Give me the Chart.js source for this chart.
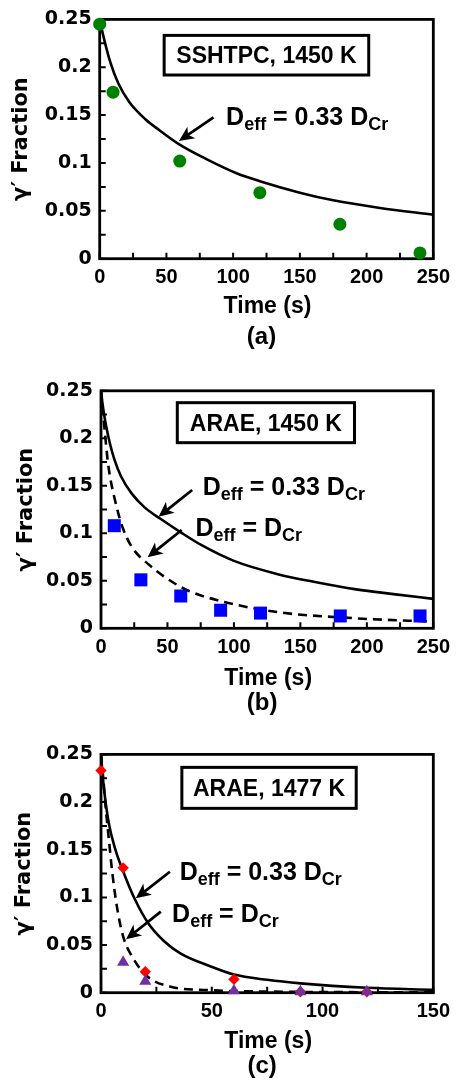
<!DOCTYPE html>
<html>
<head>
<meta charset="utf-8">
<script src="https://cdn.jsdelivr.net/npm/chart.js@4/dist/chart.umd.min.js"></script>
<style>
  html, body { margin: 0; padding: 0; background: #fff; }
  body { width: 457px; height: 1084px; position: relative; overflow: hidden; }
  canvas { position: absolute; left: 0; }
</style>
</head>
<body>
<canvas id="chartA" width="457" height="355" style="top:0"></canvas>
<canvas id="chartB" width="457" height="355" style="top:360px"></canvas>
<canvas id="chartC" width="457" height="364" style="top:720px"></canvas>
<script>
// ---- tick values ----
const yTicks = [0, 0.05, 0.1, 0.15, 0.2, 0.25];
const yTickLabels = ['0', '0.05', '0.1', '0.15', '0.2', '0.25'];
const xTicksLong = [0, 50, 100, 150, 200, 250];
const xTicksShort = [0, 50, 100, 150];

// ---- (a) SSHTPC, 1450 K ----
const timeA = [0, 10, 60, 120, 180, 240];
const fracA = [0.245, 0.174, 0.102, 0.069, 0.036, 0.006];
const fitTimeA = [0, 2, 8, 14, 22, 34, 45, 59, 80, 103, 120, 150, 175, 210, 250];
const fitA = [0.25, 0.237, 0.205, 0.183, 0.164, 0.146, 0.134, 0.120, 0.104, 0.089, 0.081, 0.069, 0.061, 0.053, 0.046];

// ---- (b) ARAE, 1450 K ----
const timeB = [10, 30, 60, 90, 120, 180, 240];
const fracB = [0.108, 0.051, 0.034, 0.019, 0.016, 0.013, 0.013];
const fitTimeB = [0, 1, 2, 4, 7, 10, 15, 23, 33, 45, 60, 75, 100, 133, 160, 192, 220, 250];
const fitB = [0.25, 0.238, 0.228, 0.212, 0.193, 0.178, 0.160, 0.142, 0.127, 0.115, 0.101, 0.088, 0.071, 0.057, 0.049, 0.041, 0.036, 0.031];
const fullTimeB = [0, 1, 2, 3, 5, 7, 10, 13, 16, 23, 36, 48, 65, 95, 133, 192, 250];
const fullB = [0.25, 0.235, 0.22, 0.205, 0.177, 0.158, 0.138, 0.121, 0.107, 0.086, 0.067, 0.054, 0.040, 0.027, 0.017, 0.0105, 0.007];

// ---- (c) ARAE, 1477 K ----
const timeC = [0, 10, 20, 60, 90, 120];
const fracC = [0.233, 0.131, 0.022, 0.014, 0.001, 0.001];
const timeC2 = [10, 20, 60, 90, 120];
const fracC2 = [0.032, 0.012, 0.002, 0.001, 0.001];
const fitTimeC = [0, 0.5, 1.3, 3.5, 6.5, 10.9, 15.3, 21, 28.5, 36, 49, 60, 75, 90, 120, 150];
const fitC = [0.25, 0.235, 0.215, 0.178, 0.150, 0.122, 0.098, 0.074, 0.054, 0.041, 0.028, 0.019, 0.0135, 0.0098, 0.0052, 0.003];
const fullTimeC = [0, 1, 2, 3.5, 5, 7.2, 10, 14, 21, 31, 48, 75, 110, 150];
const fullC = [0.25, 0.225, 0.197, 0.162, 0.128, 0.09, 0.059, 0.038, 0.017, 0.0065, 0.0028, 0.0012, 0.0006, 0.0004];

const SANS = '"Liberation Sans", Arial, sans-serif';
const WIDE = '"DejaVu Sans", sans-serif';

const zip = (xs, ys) => xs.map((x, i) => ({ x, y: ys[i] }));

function markers(xs, ys, style, radius, color) {
  return {
    data: zip(xs, ys), showLine: false, clip: false,
    pointStyle: style, pointRadius: radius, pointHoverRadius: radius,
    backgroundColor: color, borderColor: color, borderWidth: 0
  };
}

function curve(xs, ys, dash) {
  return {
    data: zip(xs, ys), showLine: true, pointRadius: 0,
    borderColor: '#000', borderWidth: 2.6, borderDash: dash || [],
    cubicInterpolationMode: 'monotone', fill: false
  };
}

const Deff033 = [['D', 0], ['eff', 1], [' = 0.33 D', 0], ['Cr', 1]];
const Deff = [['D', 0], ['eff', 1], [' = D', 0], ['Cr', 1]];

// frame and inward tick marks go under the markers
const framePlugin = {
  id: 'frame',
  beforeDatasetsDraw(chart) {
    const { ctx, chartArea: a, scales: { x, y } } = chart;
    const halves = v => v.flatMap((t, i) => i ? [(v[i - 1] + t) / 2, t] : [t]);
    ctx.save();
    ctx.strokeStyle = '#000';
    ctx.lineWidth = 2;
    ctx.beginPath();
    halves(x.ticks.map(t => t.value)).forEach(v => {
      const px = x.getPixelForValue(v);
      ctx.moveTo(px, a.bottom); ctx.lineTo(px, a.bottom - 6);
    });
    halves(y.ticks.map(t => t.value)).forEach(v => {
      const py = y.getPixelForValue(v);
      ctx.moveTo(a.left, py); ctx.lineTo(a.left + 6, py);
    });
    ctx.stroke();
    ctx.lineWidth = 2.8;
    ctx.strokeRect(a.left, a.top, a.right - a.left, a.bottom - a.top);
    ctx.restore();
  }
};

function drawArrow(ctx, x1, y1, x2, y2) {
  const ang = Math.atan2(y2 - y1, x2 - x1);
  ctx.beginPath();
  ctx.moveTo(x1, y1);
  ctx.lineTo(x2 - Math.cos(ang) * 9, y2 - Math.sin(ang) * 9);
  ctx.stroke();
  ctx.save();
  ctx.translate(x2, y2);
  ctx.rotate(ang);
  ctx.beginPath();
  ctx.moveTo(0, 0);
  ctx.lineTo(-15, -7);
  ctx.lineTo(-11, 0);
  ctx.lineTo(-15, 7);
  ctx.closePath();
  ctx.fill();
  ctx.restore();
}

function drawParts(ctx, x, y, parts) {
  parts.forEach(([txt, sub]) => {
    ctx.font = sub ? 'bold 18px ' + SANS : 'bold 25px ' + SANS;
    ctx.fillText(txt, x, sub ? y + 5 : y);
    x += ctx.measureText(txt).width;
  });
}

// titles, the sample box and the arrow labels
const notesPlugin = {
  id: 'notes',
  afterDraw(chart, args, o) {
    const { ctx, chartArea: a, scales: { x, y } } = chart;
    const P = (t, v) => [x.getPixelForValue(t), y.getPixelForValue(v)];
    const cx = (a.left + a.right) / 2;
    ctx.save();
    ctx.fillStyle = '#000';
    ctx.strokeStyle = '#000';
    ctx.textBaseline = 'alphabetic';

    ctx.textAlign = 'center';
    ctx.font = 'bold 23px ' + SANS;
    ctx.fillText('Time (s)', cx + 1, a.bottom + o.timeY);
    ctx.font = 'bold 24px ' + SANS;
    ctx.fillText(o.letter, cx - 5, a.bottom + o.letterY);

    ctx.save();
    ctx.translate(a.left - o.yTitleX, (a.top + a.bottom) / 2);
    ctx.rotate(-Math.PI / 2);
    ctx.textBaseline = 'middle';
    ctx.font = 'bold 21px ' + WIDE;
    ctx.fillText('\u03B3\u2032 Fraction', 0, 0);
    ctx.restore();

    const b = o.box;
    const [bx0, by0] = P(b.x0, b.y0);
    const [bx1, by1] = P(b.x1, b.y1);
    ctx.fillStyle = '#fff';
    ctx.fillRect(bx0, by0, bx1 - bx0, by1 - by0);
    ctx.fillStyle = '#000';
    ctx.lineWidth = 3;
    ctx.strokeRect(bx0, by0, bx1 - bx0, by1 - by0);
    ctx.font = 'bold 23px ' + SANS;
    ctx.fillText(b.text, (bx0 + bx1) / 2, (by0 + by1) / 2 + 8.3);

    ctx.textAlign = 'left';
    ctx.lineWidth = 2.8;
    o.labels.forEach(l => {
      const [tx, ty] = P(l.x, l.y);
      drawParts(ctx, tx, ty, l.parts);
      const [ax0, ay0] = P(l.from[0], l.from[1]);
      const [ax1, ay1] = P(l.to[0], l.to[1]);
      drawArrow(ctx, ax0, ay0, ax1, ay1);
    });
    ctx.restore();
  }
};

function makeChart(id, datasets, xTicks, fit, notes) {
  return new Chart(document.getElementById(id), {
    type: 'scatter',
    data: { datasets },
    plugins: [framePlugin, notesPlugin],
    options: {
      responsive: false,
      animation: false,
      events: [],
      layout: { padding: fit.padding },
      plugins: { legend: { display: false }, tooltip: { enabled: false }, notes },
      scales: {
        x: {
          type: 'linear', min: xTicks[0], max: xTicks[xTicks.length - 1],
          afterBuildTicks: s => { s.ticks = xTicks.map(v => ({ value: v })); },
          afterFit: s => { s.height = fit.xHeight; },
          grid: { display: false, drawTicks: false },
          border: { display: false },
          ticks: { padding: 7, color: '#000', maxRotation: 0, font: { family: SANS, size: 20, weight: 'bold' } }
        },
        y: {
          type: 'linear', min: 0, max: 0.25,
          afterBuildTicks: s => { s.ticks = yTicks.map(v => ({ value: v })); },
          afterFit: s => { s.width = fit.yWidth; },
          grid: { display: false, drawTicks: false },
          border: { display: false },
          ticks: {
            padding: 8, color: '#000',
            callback: (v, i) => yTickLabels[i],
            font: { family: WIDE, size: 19, weight: 'bold' }
          }
        }
      }
    }
  });
}

makeChart('chartA', [
  markers(timeA, fracA, 'circle', 6.5, '#008000'),
  curve(fitTimeA, fitA)
], xTicksLong, {
  padding: { top: 18.3, right: 19.3, bottom: 0, left: 0 }, yWidth: 99.7, xHeight: 96.3
}, {
  letter: '(a)', timeY: 54.6, letterY: 85.3, yTitleX: 78,
  box: { x0: 48.3, x1: 201.6, y0: 0.2333, y1: 0.1919, text: 'SSHTPC, 1450 K' },
  labels: [
    { x: 94.7, y: 0.1402, parts: Deff033, from: [85.3, 0.1477], to: [59.4, 0.1229] }
  ]
});

makeChart('chartB', [
  markers(timeB, fracB, 'rect', 9.2, '#0000FF'),
  curve(fitTimeB, fitB),
  curve(fullTimeB, fullB, [9, 6])
], xTicksLong, {
  padding: { top: 30.8, right: 19.3, bottom: 0, left: 0 }, yWidth: 101, xHeight: 86.7
}, {
  letter: '(b)', timeY: 56.7, letterY: 81.7, yTitleX: 74,
  box: { x0: 57.4, x1: 190.7, y0: 0.2375, y1: 0.1954, text: 'ARAE, 1450 K' },
  labels: [
    { x: 76.5, y: 0.1403, parts: Deff033, from: [68.6, 0.1456], to: [43.3, 0.1175] },
    { x: 71.1, y: 0.0975, parts: Deff, from: [60.7, 0.1035], to: [35.1, 0.0747] }
  ]
});

makeChart('chartC', [
  markers(timeC2, fracC2, 'triangle', 7, '#7030A0'),
  markers(timeC, fracC, 'rectRot', 5.7, '#FF0000'),
  curve(fitTimeC, fitC),
  curve(fullTimeC, fullC, [9, 6])
], xTicksShort, {
  padding: { top: 34.4, right: 15.3, bottom: 0, left: 0 }, yWidth: 101, xHeight: 91.3
}, {
  letter: '(c)', timeY: 55.6, letterY: 80.6, yTitleX: 76,
  box: { x0: 36.5, x1: 115.2, y0: 0.2364, y1: 0.1934, text: 'ARAE, 1477 K' },
  labels: [
    { x: 35.5, y: 0.1182, parts: Deff033, from: [31.1, 0.1269], to: [15.7, 0.099] },
    { x: 32.1, y: 0.0745, parts: Deff, from: [27, 0.085], to: [11.3, 0.056] }
  ]
});
</script>
</body>
</html>
